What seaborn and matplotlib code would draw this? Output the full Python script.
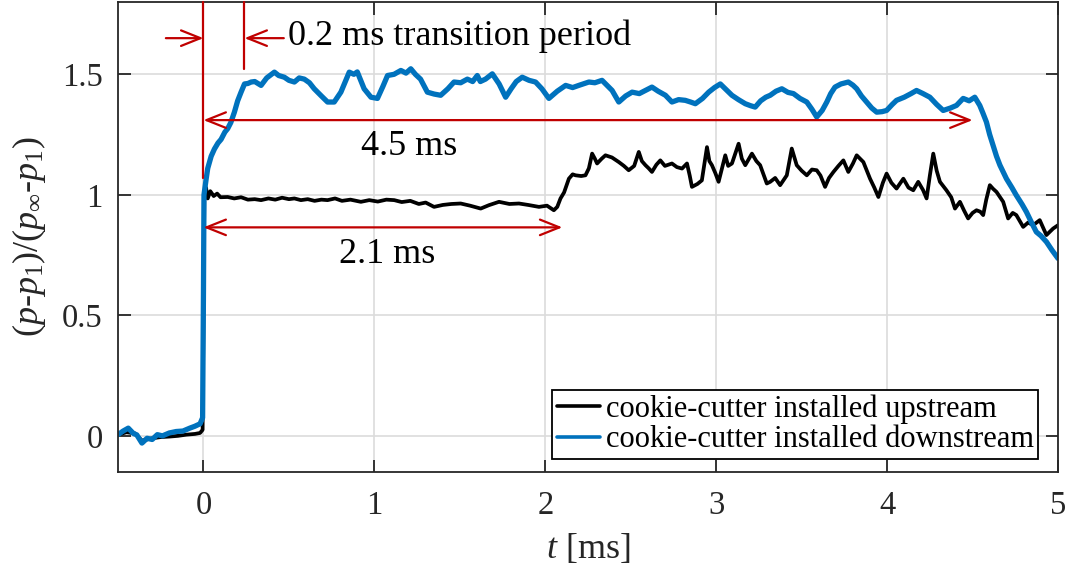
import matplotlib
matplotlib.use("Agg")
import matplotlib.pyplot as plt
import numpy as np
import pandas as pd
import seaborn as sns

# ---------------------------------------------------------------- data
# normalised pressure traces (time in ms)
t_down = [-0.50, -0.47, -0.44, -0.41, -0.39, -0.36, -0.33, -0.30, -0.27, -0.24,
          -0.20, -0.16, -0.12, -0.08, -0.05, -0.02, -0.005, 0.000, 0.003, 0.016,
          0.025, 0.045, 0.064, 0.085, 0.103, 0.125, 0.142, 0.160, 0.181, 0.200,
          0.220, 0.240, 0.260, 0.279, 0.300, 0.337, 0.370, 0.415, 0.440, 0.473,
          0.500, 0.532, 0.560, 0.590, 0.620, 0.648, 0.690, 0.726, 0.765, 0.804,
          0.830, 0.853, 0.880, 0.900, 0.920, 0.940, 0.980, 1.018, 1.050, 1.077,
          1.115, 1.155, 1.185, 1.213, 1.240, 1.270, 1.310, 1.350, 1.388, 1.430,
          1.466, 1.505, 1.544, 1.575, 1.602, 1.620, 1.650, 1.690, 1.730, 1.768,
          1.800, 1.830, 1.865, 1.905, 1.943, 1.980, 2.021, 2.070, 2.119, 2.160,
          2.196, 2.255, 2.290, 2.332, 2.360, 2.391, 2.430, 2.470, 2.508, 2.550,
          2.586, 2.624, 2.660, 2.703, 2.741, 2.780, 2.819, 2.850, 2.878, 2.920,
          2.956, 2.990, 3.024, 3.060, 3.092, 3.130, 3.170, 3.200, 3.228, 3.260,
          3.290, 3.316, 3.350, 3.384, 3.420, 3.452, 3.490, 3.530, 3.560, 3.588,
          3.620, 3.647, 3.670, 3.695, 3.730, 3.773, 3.800, 3.822, 3.850, 3.880,
          3.910, 3.939, 3.970, 3.997, 4.030, 4.055, 4.100, 4.140, 4.172, 4.210,
          4.250, 4.290, 4.328, 4.370, 4.406, 4.445, 4.480, 4.513, 4.542, 4.560,
          4.581, 4.600, 4.620, 4.640, 4.660, 4.698, 4.730, 4.756, 4.790, 4.815,
          4.845, 4.873, 4.900, 4.932, 4.965, 5.000]
p_down = [0.005, 0.020, 0.032, 0.010, 0.004, -0.030, -0.010, -0.015, 0.005, 0.000,
          0.012, 0.018, 0.020, 0.032, 0.040, 0.050, 0.075, 0.600, 1.000, 1.067,
          1.110, 1.160, 1.190, 1.215, 1.230, 1.260, 1.275, 1.300, 1.343, 1.390,
          1.426, 1.460, 1.462, 1.468, 1.470, 1.454, 1.485, 1.509, 1.495, 1.488,
          1.475, 1.468, 1.485, 1.480, 1.465, 1.440, 1.410, 1.385, 1.385, 1.426,
          1.470, 1.509, 1.500, 1.510, 1.475, 1.440, 1.405, 1.400, 1.450, 1.495,
          1.500, 1.516, 1.505, 1.523, 1.500, 1.480, 1.426, 1.418, 1.413, 1.440,
          1.468, 1.465, 1.480, 1.470, 1.495, 1.470, 1.480, 1.502, 1.460, 1.405,
          1.440, 1.470, 1.488, 1.475, 1.468, 1.440, 1.400, 1.430, 1.454, 1.445,
          1.454, 1.468, 1.465, 1.475, 1.455, 1.433, 1.385, 1.410, 1.426, 1.420,
          1.433, 1.447, 1.430, 1.413, 1.385, 1.395, 1.392, 1.385, 1.378, 1.400,
          1.426, 1.445, 1.460, 1.435, 1.413, 1.395, 1.378, 1.370, 1.364, 1.390,
          1.405, 1.413, 1.430, 1.440, 1.425, 1.420, 1.400, 1.385, 1.355, 1.323,
          1.350, 1.385, 1.420, 1.447, 1.460, 1.468, 1.455, 1.440, 1.410, 1.385,
          1.360, 1.343, 1.345, 1.350, 1.375, 1.392, 1.405, 1.420, 1.433, 1.420,
          1.405, 1.375, 1.350, 1.360, 1.371, 1.400, 1.390, 1.405, 1.371, 1.340,
          1.302, 1.250, 1.205, 1.160, 1.123, 1.067, 1.030, 0.998, 0.960, 0.929,
          0.885, 0.846, 0.830, 0.805, 0.770, 0.736]

t_up = [-0.50, -0.45, -0.40, -0.36, -0.30, -0.25, -0.20, -0.15, -0.10, -0.05,
        -0.02, -0.005, 0.000, 0.005, 0.015, 0.025, 0.040, 0.060, 0.080, 0.100,
        0.142, 0.180, 0.220, 0.260, 0.300, 0.337, 0.380, 0.420, 0.460, 0.500,
        0.532, 0.570, 0.610, 0.650, 0.690, 0.726, 0.770, 0.810, 0.860, 0.921,
        0.970, 1.020, 1.070, 1.116, 1.160, 1.210, 1.260, 1.300, 1.349, 1.400,
        1.450, 1.505, 1.560, 1.622, 1.670, 1.729, 1.790, 1.846, 1.900, 1.963,
        2.010, 2.050, 2.070, 2.089, 2.110, 2.138, 2.160, 2.177, 2.210, 2.235,
        2.255, 2.274, 2.290, 2.303, 2.330, 2.352, 2.390, 2.430, 2.460, 2.488,
        2.520, 2.547, 2.565, 2.586, 2.605, 2.624, 2.650, 2.673, 2.700, 2.741,
        2.770, 2.800, 2.829, 2.845, 2.858, 2.890, 2.916, 2.946, 2.960, 2.975,
        2.995, 3.014, 3.053, 3.070, 3.092, 3.131, 3.150, 3.170, 3.209, 3.235,
        3.257, 3.296, 3.316, 3.345, 3.374, 3.413, 3.442, 3.471, 3.500, 3.530,
        3.560, 3.588, 3.610, 3.637, 3.660, 3.686, 3.715, 3.744, 3.773, 3.800,
        3.822, 3.861, 3.900, 3.925, 3.949, 3.975, 3.997, 4.025, 4.055, 4.095,
        4.125, 4.153, 4.182, 4.210, 4.231, 4.250, 4.270, 4.290, 4.309, 4.347,
        4.375, 4.397, 4.426, 4.450, 4.474, 4.500, 4.523, 4.545, 4.562, 4.580,
        4.601, 4.620, 4.640, 4.679, 4.708, 4.735, 4.756, 4.796, 4.825, 4.854,
        4.893, 4.932, 4.971, 5.000]
p_up = [0.005, 0.015, 0.010, -0.020, -0.010, -0.005, -0.003, 0.000, 0.005, 0.008,
        0.012, 0.025, 0.500, 1.000, 1.030, 0.985, 1.015, 0.995, 1.005, 0.990,
        0.991, 0.985, 0.990, 0.980, 0.982, 0.978, 0.985, 0.980, 0.988, 0.982,
        0.985, 0.978, 0.982, 0.975, 0.980, 0.978, 0.985, 0.975, 0.980, 0.971,
        0.978, 0.972, 0.980, 0.978, 0.970, 0.975, 0.962, 0.968, 0.950, 0.958,
        0.962, 0.964, 0.955, 0.943, 0.957, 0.971, 0.962, 0.964, 0.958, 0.950,
        0.955, 0.936, 0.950, 0.985, 1.010, 1.067, 1.085, 1.081, 1.078, 1.081,
        1.110, 1.171, 1.150, 1.130, 1.150, 1.164, 1.155, 1.136, 1.120, 1.102,
        1.120, 1.178, 1.140, 1.123, 1.110, 1.095, 1.125, 1.143, 1.120, 1.130,
        1.115, 1.109, 1.130, 1.080, 1.033, 1.045, 1.060, 1.198, 1.140, 1.123,
        1.090, 1.054, 1.164, 1.120, 1.130, 1.212, 1.150, 1.123, 1.171, 1.140,
        1.123, 1.047, 1.054, 1.070, 1.040, 1.081, 1.192, 1.123, 1.100, 1.081,
        1.105, 1.102, 1.080, 1.033, 1.070, 1.095, 1.120, 1.143, 1.095, 1.130,
        1.164, 1.136, 1.067, 1.030, 0.991, 1.050, 1.088, 1.050, 1.026, 1.067,
        1.030, 1.019, 1.054, 1.020, 0.985, 1.080, 1.171, 1.100, 1.054, 1.019,
        0.990, 0.943, 0.971, 0.935, 0.902, 0.925, 0.936, 0.930, 0.916, 0.980,
        1.040, 1.025, 1.012, 0.971, 0.902, 0.925, 0.916, 0.867, 0.885, 0.874,
        0.895, 0.833, 0.860, 0.874]

series_labels = ["cookie-cutter installed upstream",
                 "cookie-cutter installed downstream"]
x_ticks = [0, 1, 2, 3, 4, 5]
x_tick_labels = ["0", "1", "2", "3", "4", "5"]
y_ticks = [0, 0.5, 1, 1.5]
y_tick_labels = ["0", "0.5", "1", "1.5"]

# annotation geometry (ms / normalised pressure)
transition_start, transition_end = 0.0, 0.24
duration_down, duration_up = 4.5, 2.1

# ---------------------------------------------------------------- style
sns.set_theme(style="ticks")
plt.rcParams["font.family"] = ["Liberation Serif", "DejaVu Serif"]
plt.rcParams["mathtext.fontset"] = "custom"
plt.rcParams["mathtext.rm"] = "Liberation Serif"
plt.rcParams["mathtext.it"] = "Liberation Serif:italic"
plt.rcParams["mathtext.fallback"] = "stix"

RED = "#C00000"
BLUE = "#0072BD"
DARK = "#262626"

fig = plt.figure(figsize=(10.67, 5.72), dpi=100)
ax = fig.add_axes([0.1106, 0.1748, 0.8810, 0.8217])

df_up = pd.DataFrame({"t": t_up, "p": p_up})
df_down = pd.DataFrame({"t": t_down, "p": p_down})

sns.lineplot(data=df_up, x="t", y="p", ax=ax, color="black", lw=2.7,
             sort=False, estimator=None, label=series_labels[0])
sns.lineplot(data=df_down, x="t", y="p", ax=ax, color=BLUE, lw=3.8,
             sort=False, estimator=None, label=series_labels[1])

ax.set_xlim(-0.5, 5)
ax.set_ylim(-0.15, 1.8)
ax.set_xticks(x_ticks, x_tick_labels)
ax.set_yticks(y_ticks, y_tick_labels)
ax.grid(True, color="#dcdcdc", lw=1.2)
ax.set_axisbelow(True)
ax.tick_params(direction="in", top=True, right=True, length=9, width=1.3,
               color=DARK, labelcolor=DARK, labelsize=23.5)
ax.tick_params(axis="x", pad=13)
ax.tick_params(axis="y", pad=11)
for s in ax.spines.values():
    s.set_color(DARK)
    s.set_linewidth(1.3)

ax.set_xlabel(r"$t$ [ms]", fontsize=26, color=DARK, labelpad=8)
ax.set_ylabel(r"$(p$-$p_1)/(p_\infty$-$p_1)$", fontsize=26, color=DARK,
              labelpad=10)

# ---------------------------------------------------------------- annotations
ax.plot([transition_start, transition_start], [1.07, 1.8], color=RED, lw=1.6,
        clip_on=False, zorder=5)
ax.plot([transition_end, transition_end], [1.52, 1.8], color=RED, lw=1.6,
        clip_on=False, zorder=5)

head = "->, head_length=0.7, head_width=0.28"
dhead = "<->, head_length=0.7, head_width=0.28"
arrow_kw = dict(color=RED, lw=1.6, shrinkA=0, shrinkB=0, mutation_scale=20)

ax.annotate("", xy=(transition_start, 1.65), xytext=(-0.22, 1.65),
            arrowprops=dict(arrowstyle=head, **arrow_kw), zorder=5)
ax.annotate("", xy=(transition_end, 1.65), xytext=(0.47, 1.65),
            arrowprops=dict(arrowstyle=head, **arrow_kw), zorder=5)
ax.text(0.497, 1.62, "0.2 ms transition period", fontsize=26,
        ha="left", va="baseline", color="black")

ax.annotate("", xy=(0, 1.31), xytext=(duration_down, 1.31),
            arrowprops=dict(arrowstyle=dhead, **arrow_kw), zorder=5)
ax.text(1.206, 1.164, f"{duration_down} ms", fontsize=26, ha="center",
        va="baseline", color="black")

ax.annotate("", xy=(0, 0.865), xytext=(duration_up, 0.865),
            arrowprops=dict(arrowstyle=dhead, **arrow_kw), zorder=5)
ax.text(1.072, 0.717, f"{duration_up} ms", fontsize=26, ha="center",
        va="baseline", color="black")

# ---------------------------------------------------------------- legend
leg = ax.legend(loc="lower right", bbox_to_anchor=(0.979, 0.028),
                borderaxespad=0, fontsize=22, frameon=True, fancybox=False,
                framealpha=1, edgecolor="black", labelcolor="black",
                handlelength=1.4, handletextpad=0.2, labelspacing=0.05,
                borderpad=0.15)
leg.get_frame().set_linewidth(1.3)
for line in leg.get_lines():
    line.set_linewidth(2.6)

fig.savefig("out.png", dpi=100)
